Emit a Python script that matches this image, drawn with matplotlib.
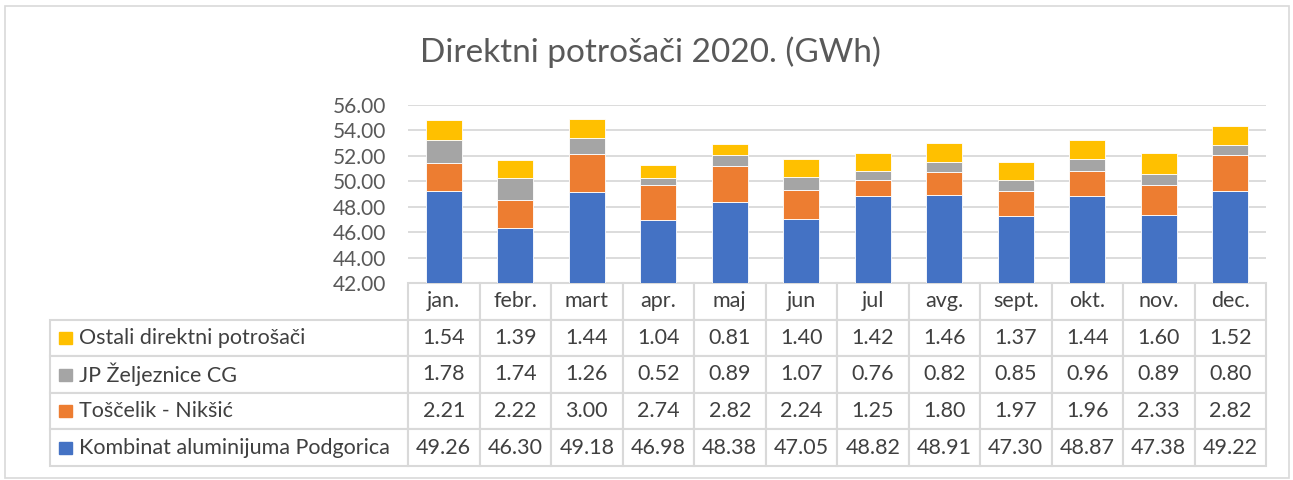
import matplotlib.pyplot as plt
from matplotlib.patches import Rectangle

# data (GWh)
months = ["jan.", "febr.", "mart", "apr.", "maj", "jun", "jul", "avg.", "sept.", "okt.", "nov.", "dec."]
kombinat = [49.26, 46.30, 49.18, 46.98, 48.38, 47.05, 48.82, 48.91, 47.30, 48.87, 47.38, 49.22]
toscelik = [2.21, 2.22, 3.00, 2.74, 2.82, 2.24, 1.25, 1.80, 1.97, 1.96, 2.33, 2.82]
zeljeznice = [1.78, 1.74, 1.26, 0.52, 0.89, 1.07, 0.76, 0.82, 0.85, 0.96, 0.89, 0.80]
ostali = [1.54, 1.39, 1.44, 1.04, 0.81, 1.40, 1.42, 1.46, 1.37, 1.44, 1.60, 1.52]
series_names = ["Kombinat aluminijuma Podgorica", "Toščelik - Nikšić", "JP Željeznice CG", "Ostali direktni potrošači"]
series_colors = ["#4472C4", "#ED7D31", "#A5A5A5", "#FFC000"]

plt.rcParams['font.family'] = ['Lato', 'DejaVu Sans']
W, H = 1293, 480
fig = plt.figure(figsize=(W / 100, H / 100), dpi=100)

# chart area border
fig.add_artist(Rectangle((5 / W, 2 / H), 1284 / W, 472 / H, transform=fig.transFigure,
                         fill=False, edgecolor="#D9D9D9", lw=1.2))

ax_l, ax_r, ax_t, ax_b = 408, 1266, 105, 283
ax = fig.add_axes([ax_l / W, 1 - ax_b / H, (ax_r - ax_l) / W, (ax_b - ax_t) / H])

all_series = [kombinat, toscelik, zeljeznice, ostali]
x = range(len(months))
bottom = [0] * len(months)
for vals, name, col in zip(all_series, series_names, series_colors):
    ax.bar(x, vals, 0.5, bottom=bottom, color=col, edgecolor="white", lw=0.6, label=name, zorder=3)
    bottom = [b + v for b, v in zip(bottom, vals)]

ax.set_xlim(-0.5, len(months) - 0.5)
ax.set_ylim(42, 56)
ax.set_yticks(range(42, 57, 2))
ax.set_yticklabels([f"{v:.2f}" for v in range(42, 57, 2)])
ax.tick_params(axis="y", length=0, pad=16, labelsize=15, labelcolor="#595959")
ax.set_xticks([])
ax.grid(axis="y", color="#D9D9D9", lw=1.3, zorder=0)
for s in ax.spines.values():
    s.set_visible(False)

# title
fig.text(650 / W, 1 - 52 / H, "Direktni potrošači 2020. (GWh)", ha="center", va="center",
         fontsize=24, color="#595959")

# data table
cell_text = [[""] + months]
for vals, name in zip(all_series[::-1], series_names[::-1]):
    cell_text.append([name] + [f"{v:.2f}" for v in vals])

tab_l, tab_b = 50, 466
span = ax_r - ax_l
hgt = ax_b - ax_t
col_w = [ax_l - tab_l] + [span / 12] * 12
tab = ax.table(cellText=cell_text, colWidths=col_w, cellLoc="center",
               bbox=[(tab_l - ax_l) / span, -(tab_b - ax_b) / hgt,
                     (ax_r - tab_l) / span, (tab_b - ax_b) / hgt])
tab.auto_set_font_size(False)
for (r, c), cell in tab.get_celld().items():
    cell.set_edgecolor("#D9D9D9")
    cell.set_linewidth(1.5)
    cell.set_text_props(fontsize=15.5, color="#404040")
    if c == 0:
        cell._loc = "left"
        cell.PAD = 29 / (ax_l - tab_l)
        cell.get_text().set_ha("left")
    if r == 0 and c == 0:
        cell.visible_edges = "open"

# legend keys in table rows
row_h = (tab_b - ax_b) / 5
for i, col in enumerate(series_colors[::-1]):
    yc = ax_b + row_h * (i + 1.5)
    fig.add_artist(Rectangle((59 / W, 1 - (yc + 6) / H), 13 / W, 12 / H,
                             transform=fig.transFigure, color=col))

fig.savefig("out.png", dpi=100)
